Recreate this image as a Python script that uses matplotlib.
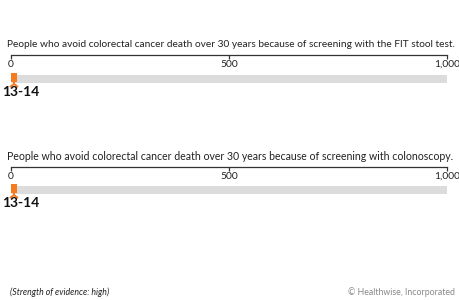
import matplotlib.pyplot as plt

plt.rcParams['font.family'] = ['Lato', 'DejaVu Sans']

# ====== data ======
titles = [
    "People who avoid colorectal cancer death over 30 years because of screening with the FIT stool test.",
    "People who avoid colorectal cancer death over 30 years because of screening with colonoscopy.",
]
low_vals = [13, 13]
high_vals = [14, 14]
total = 1000
tick_vals = [0, 500, 1000]
tick_labels = ["0", "500", "1,000"]

W, H = 460, 300
fig = plt.figure(figsize=(W / 100, H / 100), dpi=100)
renderer = fig.canvas.get_renderer()

orange = "#f47b20"
gray = "#dcdcdc"

# pixel rows of each panel (title, axis line, bar centre, label)
panel_rows = [(44, 55, 79, 92), (156, 167, 190, 203)]
title_widths = [443, 440]  # px width of the titles in the reference


def fit_text(t, width):
    # shrink/grow font until text spans the given pixel width
    w = t.get_window_extent(renderer).width
    t.set_fontsize(t.get_fontsize() * width / w)


for i, (ty, ly, by, lab_y) in enumerate(panel_rows):
    t = fig.text(7 / W, 1 - ty / H, titles[i], fontsize=7.5, color="#222222",
                 ha="left", va="center")
    fit_text(t, title_widths[i])

    top, bot = ly - 5, lab_y + 10
    ax = fig.add_axes([11 / W, 1 - bot / H, 436 / W, (bot - top) / H])
    ax.set_xlim(0, total)
    ax.set_ylim(bot, top)
    ax.patch.set_visible(False)
    for s in ["top", "left", "right"]:
        ax.spines[s].set_visible(False)
    ax.spines["bottom"].set_position(("data", ly))
    ax.spines["bottom"].set_color("#333333")
    ax.spines["bottom"].set_linewidth(0.9)
    ax.set_yticks([])
    ax.set_xticks(tick_vals)
    ax.set_xticklabels(tick_labels)
    ax.tick_params(axis="x", direction="out", length=3, width=0.9,
                   color="#333333", labelsize=7.4, labelcolor="#222222", pad=0.5)

    # background bar and result bar
    ax.barh(by, total, height=8, left=0, color=gray, zorder=1)
    hi = high_vals[i]
    ax.barh(by - 1.5, hi, height=9, left=0, color=orange, zorder=2)
    ax.plot([hi / 2 + 1], [by + 5], marker="2", markersize=8, mew=1.4,
            color=orange, zorder=3, clip_on=False)

    ax.text(-8.5 * total / 436, lab_y, f"{low_vals[i]}-{high_vals[i]}",
            fontsize=10, fontweight="bold", color="#111111",
            ha="left", va="center")

fig.text(10 / W, 1 - 292 / H, "(Strength of evidence: high)", fontsize=6.3,
         style="italic", color="#222222", ha="left", va="center")
fig.text(455 / W, 1 - 292 / H, "\u00a9 Healthwise, Incorporated", fontsize=6.3,
         color="#888888", ha="right", va="center")

fig.savefig("out.png", dpi=100)
